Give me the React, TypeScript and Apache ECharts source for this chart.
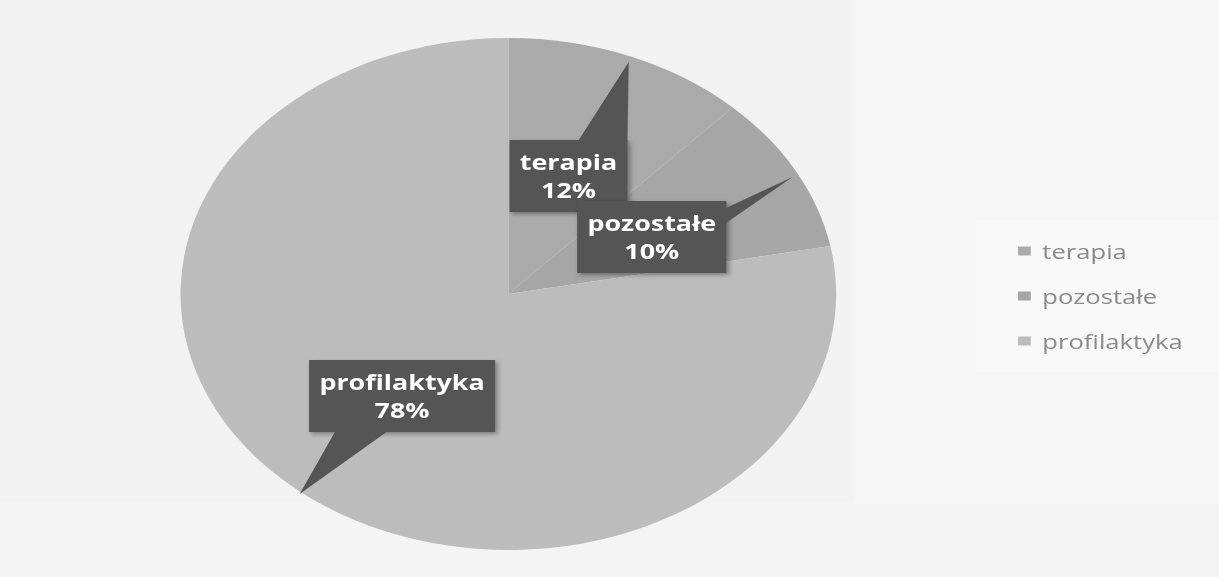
import React, { useEffect, useRef } from "react";
import * as echarts from "echarts";

// ---- data ----
const categories = ["terapia", "pozostałe", "profilaktyka"];
const values = [12, 10, 78];
const colors = ["#aaaaaa", "#a6a6a6", "#bcbcbc"];

// ---- layout (chart space; the whole picture is stretched horizontally) ----
const STRETCH = 1.2805;
const W = 952;
const H = 577;
const CENTER = [397, 294];
const RADIUS = 256;
// label box centres per slice
const labelPos = [
  [444, 176],
  [509, 237],
  [314, 396],
];
// callout pointers (triangles)
const pointers = [
  [[451, 142], [490, 142], [491, 62]],
  [[567, 208], [567, 223], [619, 177]],
  [[262, 431], [303, 431], [234, 494]],
];

export default function App() {
  const ref = useRef<HTMLDivElement>(null);
  useEffect(() => {
    if (!ref.current) return;
    const chart = echarts.init(ref.current, undefined, { renderer: "svg" });
    const data = categories.map((name, i) => ({
      name,
      value: values[i],
      itemStyle: { color: colors[i] },
    }));
    chart.setOption({
      animation: false,
      backgroundColor: "#f2f2f2",
      legend: {
        orient: "vertical",
        left: 790,
        top: 236,
        itemWidth: 10,
        itemHeight: 9,
        itemGap: 25,
        icon: "rect",
        data: categories,
        textStyle: {
          color: "#8a8a8a",
          fontSize: 20,
          lineHeight: 20,
          fontFamily: "Open Sans",
          padding: [0, 0, 0, 4],
        },
      },
      graphic: [
        {
          type: "rect",
          z: -10,
          silent: true,
          shape: { x: 0, y: 503, width: W, height: 74 },
          style: { fill: "#f4f4f4" },
        },
        {
          type: "rect",
          z: -10,
          silent: true,
          shape: { x: 668, y: 0, width: 284, height: 503 },
          style: { fill: "#f5f5f5" },
        },
        {
          type: "rect",
          z: -9,
          silent: true,
          shape: { x: 762, y: 220, width: 190, height: 152 },
          style: { fill: "#f9f9f9" },
        },
        ...pointers.map((pts) => ({
          type: "polygon",
          z: 100,
          silent: true,
          shape: { points: pts },
          style: { fill: "#555555" },
        })),
      ],
      series: [
        {
          type: "pie",
          center: CENTER,
          radius: RADIUS,
          startAngle: 90,
          clockwise: true,
          avoidLabelOverlap: false,
          data,
          itemStyle: { borderWidth: 0 },
          emphasis: { disabled: true },
          labelLine: { show: false },
          label: {
            show: true,
            position: "inside",
            formatter: "{b}\n{d}%",
            color: "#ffffff",
            fontFamily: "Open Sans",
            fontWeight: "bold",
            fontSize: 21,
            lineHeight: 28,
            align: "center",
            backgroundColor: "#555555",
            padding: [8, 8, 8, 8],
            shadowColor: "rgba(0,0,0,0.35)",
            shadowBlur: 4,
            shadowOffsetX: 2,
            shadowOffsetY: 2,
          },
          labelLayout: (params: any) => {
            const p = labelPos[params.dataIndex];
            return { x: p[0], y: p[1], align: "center", verticalAlign: "middle" };
          },
        },
      ],
    });
    return () => chart.dispose();
  }, []);
  return (
    <div
      style={{
        position: "fixed",
        left: 0,
        top: 0,
        width: 1219,
        height: 577,
        overflow: "hidden",
        background: "#f2f2f2",
      }}
    >
      <div
        ref={ref}
        style={{
          width: W,
          height: H,
          transform: `scaleX(${STRETCH})`,
          transformOrigin: "0 0",
        }}
      />
    </div>
  );
}
